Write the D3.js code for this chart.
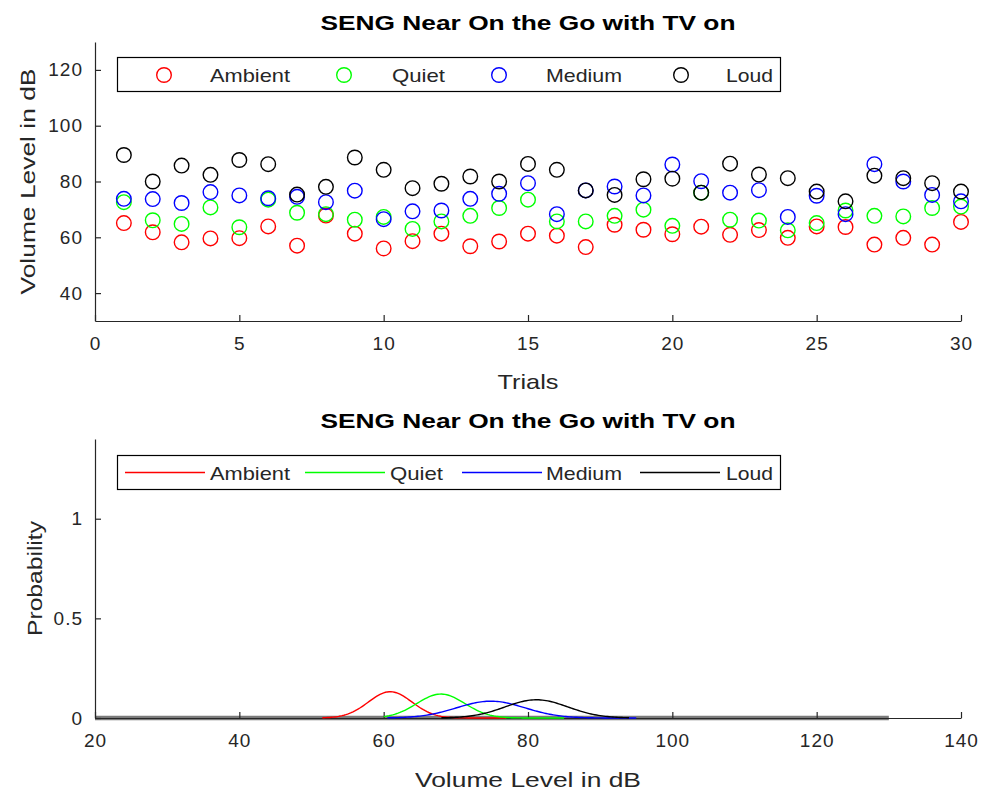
<!DOCTYPE html>
<html><head><meta charset="utf-8">
<script src="https://cdn.jsdelivr.net/npm/d3@7"></script>
<style>
body{margin:0;background:#fff;}
text{font-family:"Liberation Sans",Arial,Helvetica,sans-serif;}
</style></head>
<body><svg id="c" width="984" height="797"></svg>
<script>
const trials = d3.range(1, 31);
const seriesNames = ["Ambient", "Quiet", "Medium", "Loud"];
const seriesColors = ["#ff0000", "#00ff00", "#0000ff", "#000000"];
const ambient = [65.1,61.8,58.2,59.6,59.7,63.9,57.0,67.8,61.3,56.0,58.6,61.3,56.8,58.5,61.3,60.6,56.5,64.5,62.7,61.1,63.8,60.9,62.6,59.8,63.9,63.7,57.4,59.8,57.4,65.5];
const quiet   = [72.6,66.1,64.8,70.7,63.6,73.5,68.8,68.3,66.3,67.3,63.0,65.7,67.7,70.5,73.5,65.7,65.7,67.7,69.9,64.1,76.0,66.3,66.0,62.5,65.1,69.6,67.7,67.5,70.5,71.0];
const medium  = [73.8,73.7,72.3,76.2,75.0,74.0,74.5,72.6,76.7,66.5,69.3,69.6,73.8,75.6,79.4,68.3,76.8,78.2,75.0,86.1,80.1,76.0,76.9,67.3,74.9,68.3,86.2,80.0,75.2,72.9];
const loud    = [89.5,80.0,85.7,82.4,87.7,86.2,75.3,78.1,88.6,84.2,77.6,79.2,81.8,80.0,86.3,84.2,76.8,75.2,80.8,81.0,76.0,86.4,82.5,81.2,76.4,72.9,82.1,81.2,79.4,76.4];
const seriesValues = [ambient, quiet, medium, loud];
// x ranges over which each fitted density curve is drawn
const curveStart = [51.5, 60.0, 60.5, 68.0];
const curveEnd   = [77.0, 85.0, 95.0, 94.0];
// grey baseline trace
const greyX = [20, 130];
const greyY = [0, 0];
const topXTicks = [0,5,10,15,20,25,30];
const topYTicks = [40,60,80,100,120];
const botXTicks = [20,40,60,80,100,120,140];
const botYTicks = [0,0.5,1];
const title = "SENG Near On the Go with TV on";

const svg = d3.select("#c");
const axisColor = "#262626";
const L = 95, R = 961;
const tickFont = 19;

function styleAxis(g){
  g.select(".domain").attr("stroke", axisColor).attr("stroke-width", 1.2);
  g.selectAll(".tick line").attr("stroke", axisColor).attr("stroke-width", 1.2);
  g.selectAll(".tick text").attr("fill", axisColor).attr("font-size", tickFont)
    .attr("letter-spacing", 1);
}
function label(x, y, str, size, len, opts = {}){
  const t = svg.append("text").attr("x", x).attr("y", y)
    .attr("text-anchor", opts.anchor || "middle")
    .attr("font-size", size).attr("fill", opts.fill || axisColor)
    .attr("font-weight", opts.bold ? "bold" : "normal")
    .attr("textLength", len).attr("lengthAdjust", "spacingAndGlyphs")
    .text(str);
  if (opts.rotate) t.attr("transform", `rotate(-90,${x},${y})`);
  return t;
}

// ---------- top plot ----------
const x1 = d3.scaleLinear().domain([0,30]).range([L,R]);
const y1 = d3.scaleLinear().domain([30,130]).range([321,42]);

const gx1 = svg.append("g").attr("transform","translate(0,321)")
  .call(d3.axisBottom(x1).tickValues(topXTicks).tickSizeInner(-6).tickSizeOuter(0).tickPadding(16));
styleAxis(gx1);
const gy1 = svg.append("g").attr("transform",`translate(${L},0)`)
  .call(d3.axisLeft(y1).tickValues(topYTicks).tickSizeInner(-6).tickSizeOuter(0).tickPadding(12));
styleAxis(gy1);

seriesValues.forEach((vals, si) => {
  svg.append("g").selectAll("circle").data(vals).join("circle")
    .attr("cx", (d,i) => x1(trials[i]))
    .attr("cy", d => y1(d))
    .attr("r", 7.3)
    .attr("fill", "none")
    .attr("stroke", seriesColors[si])
    .attr("stroke-width", 1.4);
});

label((L+R)/2 + 0, 30, title, 20, 415, {bold:true, fill:"#000"});
label((L+R)/2, 389, "Trials", 21, 61);
label(35, y1(80), "Volume Level in dB", 21, 226, {rotate:true});

// top legend
const leg1 = svg.append("g");
leg1.append("rect").attr("x",117.5).attr("y",57.5).attr("width",663).attr("height",34)
  .attr("fill","#fff").attr("stroke","#000").attr("stroke-width",1.2);
const legMarkX = [164, 344, 499, 681];
const legTextX = [210, 392, 546, 726];
const legTextW = [80, 53, 76, 47];
seriesNames.forEach((n,i) => {
  leg1.append("circle").attr("cx", legMarkX[i]).attr("cy", 75).attr("r", 7.3)
    .attr("fill","none").attr("stroke", seriesColors[i]).attr("stroke-width",1.4);
  leg1.append("text").attr("x", legTextX[i]).attr("y", 82).attr("font-size",19)
    .attr("fill", axisColor).attr("textLength", legTextW[i]).attr("lengthAdjust","spacingAndGlyphs").text(n);
});

// ---------- bottom plot ----------
const x2 = d3.scaleLinear().domain([20,140]).range([L,R]);
const y2 = d3.scaleLinear().domain([0,1.4]).range([718,439]);

svg.append("path").datum(greyX.map((d,i)=>[d, greyY[i]]))
  .attr("d", d3.line().x(d=>x2(d[0])).y(d=>y2(d[1])))
  .attr("stroke","#7a7a7a").attr("stroke-width",4.5).attr("fill","none");

const gx2 = svg.append("g").attr("transform","translate(0,718)")
  .call(d3.axisBottom(x2).tickValues(botXTicks).tickSizeInner(-6).tickSizeOuter(0).tickPadding(16));
styleAxis(gx2);
const gy2 = svg.append("g").attr("transform",`translate(${L},0)`)
  .call(d3.axisLeft(y2).tickValues(botYTicks).tickFormat(d3.format("~g")).tickSizeInner(-6).tickSizeOuter(0).tickPadding(12));
styleAxis(gy2);

seriesValues.forEach((vals, si) => {
  const mu = d3.mean(vals), sd = d3.deviation(vals);
  const xs = d3.range(curveStart[si], curveEnd[si] + 0.001, 0.25);
  const pts = xs.map(x => [x, Math.exp(-0.5*((x-mu)/sd)**2) / (sd*Math.sqrt(2*Math.PI))]);
  svg.append("path").datum(pts)
    .attr("d", d3.line().x(d=>x2(d[0])).y(d=>y2(d[1])))
    .attr("fill","none").attr("stroke", seriesColors[si]).attr("stroke-width",1.4);
});

label((L+R)/2, 428, title, 20, 415, {bold:true, fill:"#000"});
label((L+R)/2, 787, "Volume Level in dB", 21, 226);
label(42, y2(0.7), "Probability", 21, 115, {rotate:true});

// bottom legend
const leg2 = svg.append("g");
leg2.append("rect").attr("x",117.5).attr("y",455.5).attr("width",663).attr("height",34)
  .attr("fill","#fff").attr("stroke","#000").attr("stroke-width",1.2);
const legLineX0 = [125, 305, 462, 640];
const legTextX2 = [210, 390, 546, 726];
seriesNames.forEach((n,i) => {
  leg2.append("line").attr("x1", legLineX0[i]).attr("x2", legLineX0[i]+80)
    .attr("y1", 472.5).attr("y2", 472.5).attr("stroke", seriesColors[i]).attr("stroke-width",1.4);
  leg2.append("text").attr("x", legTextX2[i]).attr("y", 480).attr("font-size",19)
    .attr("fill", axisColor).attr("textLength", legTextW[i]).attr("lengthAdjust","spacingAndGlyphs").text(n);
});
</script></body></html>
